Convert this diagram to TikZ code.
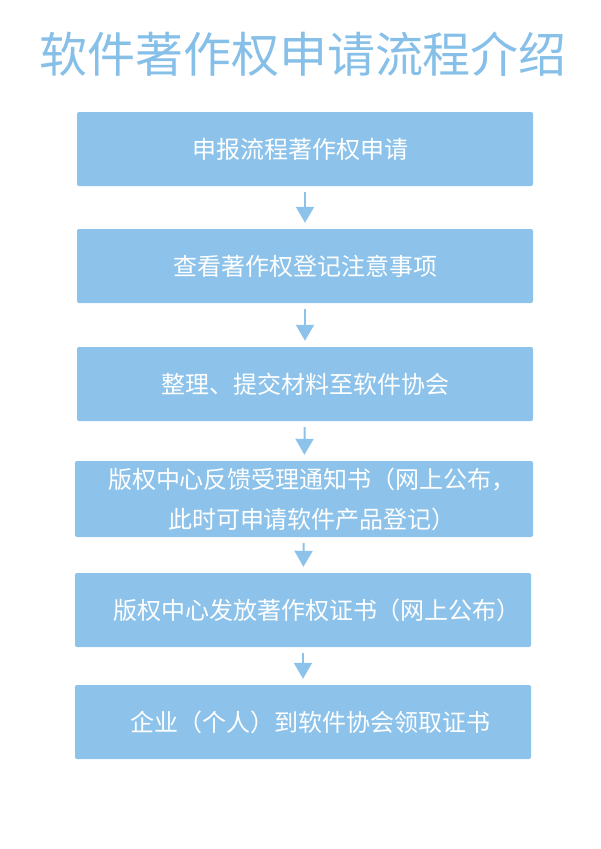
\documentclass[tikz,border=0pt]{standalone}
\usepackage{fontspec}
\usetikzlibrary{arrows.meta}
\newfontfamily\cjk{Noto Sans CJK SC}
\definecolor{boxblue}{HTML}{8DC3EA}
\definecolor{titleblue}{HTML}{86BFE8}
\tikzset{
  stepbox/.style={fill=boxblue, draw=none, rounded corners=2pt, minimum width=456pt,
    minimum height=74pt, align=center, text=white, font=\cjk\fontsize{24}{40}\selectfont},
  flow/.style={draw=boxblue, line width=2pt, shorten <=6pt, shorten >=6pt,
    -{Triangle[width=18pt,length=16pt]}}
}
\begin{document}
\begin{tikzpicture}[x=1pt,y=-1pt]
            \useasboundingbox (0,0) rectangle (600,849);
            \node[text=titleblue, font=\cjk\fontsize{48}{54}\selectfont] (title) at (303,54) {软件著作权申请流程介绍};
            \node[stepbox] (b1) at (305,149) {申报流程著作权申请\hspace*{10pt}};
            \node[stepbox] (b2) at (305,266) {查看著作权登记注意事项};
            \node[stepbox] (b3) at (305,384) {整理、提交材料至软件协会};
            \node[stepbox, minimum width=458pt, minimum height=76pt] (b4) at (304,499) {\hspace*{16pt}版权中心反馈受理通知书（网上公布，\\\hspace*{16pt}此时可申请软件产品登记）};
            \node[stepbox] (b5) at (303,610) {\hspace*{28pt}版权中心发放著作权证书（网上公布）};
            \node[stepbox] (b6) at (303,722) {\hspace*{14pt}企业（个人）到软件协会领取证书};
            \draw[flow] (b1) -- (b2);
            \draw[flow] (b2) -- (b3);
            \draw[flow] (b3) -- (b4);
            \draw[flow] (b4) -- (b5);
            \draw[flow] (b5) -- (b6);
        \end{tikzpicture}
\end{document}
